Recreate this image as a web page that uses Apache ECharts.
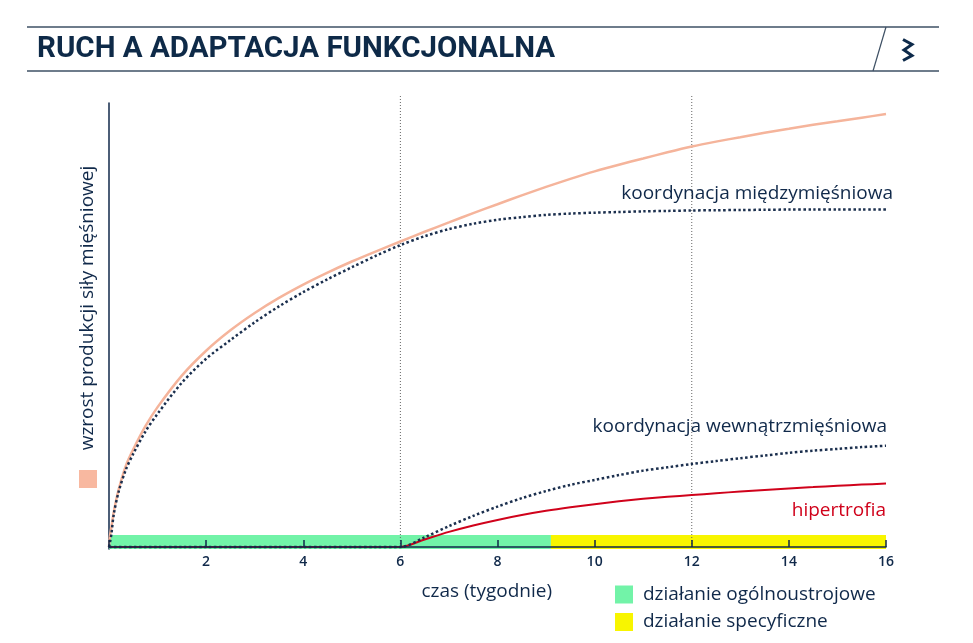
<!DOCTYPE html>
<html>
<head>
    <meta charset="UTF-8">
    <title>Ruch a adaptacja funkcjonalna</title>
    <style>
        html, body {
            height: 100%;
            margin: 0;
            padding: 0;
            background: #fff;
        }
        #chart-container {
            width: 973px;
            height: 643px;
        }
    </style>
</head>
<body>
<div id="chart-container"></div>

<script src="https://cdn.jsdelivr.net/npm/echarts@6.0.0/dist/echarts.min.js"></script>
<script>
    // tygodnie (oś X)
    const weeks = [0, 0.02, 0.05, 0.1, 0.2, 0.35, 0.5, 0.75, 1, 1.5, 2, 2.5, 3, 3.5, 4, 4.5, 5, 5.5, 6, 6.5, 7, 7.5, 8, 8.5, 9, 9.5, 10, 10.5, 11, 11.5, 12, 12.5, 13, 13.5, 14, 14.5, 15, 15.5, 16];

    // wzrost siły - suma (łososiowa linia)
    const total = [0, 2.5, 4.5, 8, 13, 18.4, 22, 27.2, 31.5, 38.6, 44.2, 48.8, 52.7, 56.1, 59.1, 61.8, 64.3, 66.6, 68.8, 71, 73.1, 75.2, 77.2, 79.2, 81.1, 82.9, 84.6, 86.1, 87.5, 88.9, 90.2, 91.3, 92.3, 93.3, 94.2, 95.1, 95.9, 96.7, 97.5];
    // koordynacja międzymięśniowa
    const inter = [0, 1, 3, 7.5, 12.5, 17.5, 21, 26, 30, 37, 42.4, 46.6, 50.6, 54.2, 57.4, 60.3, 63, 65.6, 68, 70, 71.6, 72.8, 73.7, 74.3, 74.8, 75.1, 75.3, 75.45, 75.6, 75.7, 75.8, 75.85, 75.9, 75.95, 76, 76, 76, 76, 76];
    // koordynacja wewnątrzmięśniowa
    const intra = [0, 0, 0, 0, 0, 0, 0, 0, 0, 0, 0, 0, 0, 0, 0, 0, 0, 0, 0, 2.2, 4.7, 7, 9.1, 11, 12.6, 14, 15.1, 16.2, 17.2, 17.95, 18.7, 19.35, 20, 20.6, 21.2, 21.7, 22.1, 22.5, 22.8];
    // hipertrofia
    const hyper = [0, 0, 0, 0, 0, 0, 0, 0, 0, 0, 0, 0, 0, 0, 0, 0, 0, 0, 0, 1.7, 3.4, 4.85, 6.1, 7.2, 8.15, 8.95, 9.65, 10.3, 10.85, 11.3, 11.7, 12.1, 12.5, 12.85, 13.2, 13.5, 13.8, 14.05, 14.3];

    // fazy (pasy przy osi X)
    const phaseNames = ['działanie ogólnoustrojowe', 'działanie specyficzne'];
    const phaseStart = [0, 9.1];
    const phaseEnd = [9.1, 16.15];

    // pionowe linie pomocnicze
    const guideWeeks = [6, 12];
    const guideTop = 101.8;

    const xTicks = [2, 4, 6, 8, 10, 12, 14, 16];

    const NAVY = '#10294a';
    const FONT = 'Open Sans';
    const TEXT_FONT = '500 19px "Open Sans"';
    const phaseColors = ['#72f3a8', '#f8f500'];

    const pts = function (ys) {
        return weeks.map(function (w, i) { return [w, ys[i]]; });
    };

    const chart = echarts.init(document.getElementById('chart-container'));

    const series = [];

    phaseNames.forEach(function (name, i) {
        series.push({
            name: name,
            type: 'line',
            data: [],
            color: phaseColors[i],
            z: 1,
            markArea: {
                silent: true,
                itemStyle: { color: phaseColors[i], opacity: 1 },
                data: [[{ xAxis: phaseStart[i], yAxis: -0.45 }, { xAxis: phaseEnd[i], yAxis: 2.7 }]]
            }
        });
    });

    guideWeeks.forEach(function (g) {
        series.push({
            type: 'line',
            data: [[g, 0], [g, guideTop]],
            symbol: 'none',
            clip: false,
            silent: true,
            z: 2,
            lineStyle: { color: '#666', width: 1, type: [1, 2] }
        });
    });

    series.push({
        name: 'suma',
        type: 'line',
        data: pts(total),
        smooth: 0.3,
        symbol: 'none',
        z: 3,
        lineStyle: { color: '#f5b49b', width: 2.5 }
    }, {
        name: 'koordynacja międzymięśniowa',
        type: 'line',
        data: pts(inter),
        smooth: 0.3,
        symbol: 'none',
        z: 4,
        lineStyle: { color: '#1b2f4e', width: 2.5, type: 'dotted' }
    }, {
        name: 'hipertrofia',
        type: 'line',
        data: pts(hyper),
        smooth: 0.3,
        symbol: 'none',
        z: 4,
        lineStyle: { color: '#d0021b', width: 2 }
    }, {
        name: 'koordynacja wewnątrzmięśniowa',
        type: 'line',
        data: pts(intra),
        smooth: 0.3,
        symbol: 'none',
        z: 5,
        lineStyle: { color: '#1b2f4e', width: 2.5, type: 'dotted' }
    });

    const option = {
        animation: false,
        title: {
            text: 'RUCH A ADAPTACJA FUNKCJONALNA',
            left: 32,
            top: 30,
            textStyle: {
                fontFamily: 'Roboto',
                fontWeight: 'bold',
                fontSize: 29.5,
                color: '#0e2a48'
            }
        },
        legend: {
            orient: 'vertical',
            left: 615,
            top: 585,
            padding: 0,
            itemWidth: 18,
            itemHeight: 18,
            itemGap: 8.5,
            icon: 'rect',
            data: phaseNames,
            selectedMode: false,
            textStyle: { fontFamily: FONT, fontWeight: 500, fontSize: 19, color: NAVY, padding: [0, 0, 0, 5] }
        },
        grid: {
            left: 109,
            right: 87,
            top: 103,
            bottom: 94
        },
        xAxis: {
            type: 'value',
            min: 0,
            max: 16,
            interval: 2,
            z: 10,
            splitLine: { show: false },
            axisLine: { onZero: true, lineStyle: { color: NAVY, width: 1.5 } },
            axisTick: { inside: true, length: 7, lineStyle: { color: NAVY, width: 1.5 } },
            axisLabel: {
                margin: 6,
                color: NAVY,
                fontFamily: FONT,
                fontWeight: 600,
                fontSize: 14,
                showMaxLabel: true,
                formatter: function (v) { return xTicks.indexOf(v) >= 0 ? String(v) : ''; }
            }
        },
        yAxis: {
            type: 'value',
            min: -0.45,
            max: 100,
            splitLine: { show: false },
            axisTick: { show: false },
            axisLabel: { show: false },
            axisLine: { show: true, onZero: false, lineStyle: { color: NAVY, width: 1.5 } }
        },
        graphic: [
            // ramka nagłówka
            { type: 'line', shape: { x1: 27, y1: 27, x2: 939, y2: 27 }, style: { stroke: '#3e5064', lineWidth: 1.5 } },
            { type: 'line', shape: { x1: 27, y1: 71, x2: 939, y2: 71 }, style: { stroke: '#3e5064', lineWidth: 1.5 } },
            { type: 'line', shape: { x1: 886, y1: 27, x2: 873, y2: 71 }, style: { stroke: '#3e5064', lineWidth: 1.2 } },
            {
                type: 'polyline',
                shape: { points: [[903, 39.5], [912, 44.5], [904, 50], [912, 55.5], [903, 60.5]] },
                style: { stroke: '#0d2a4a', lineWidth: 3, fill: null, lineJoin: 'miter' }
            },
            // tytuł osi Y
            {
                type: 'text',
                x: 88,
                y: 308,
                rotation: Math.PI / 2,
                style: {
                    text: 'wzrost produkcji siły mięśniowej',
                    font: TEXT_FONT,
                    fill: NAVY,
                    textAlign: 'center',
                    textVerticalAlign: 'middle'
                }
            },
            { type: 'rect', shape: { x: 79, y: 470, width: 18, height: 18 }, style: { fill: '#f8b8a0' } },
            // tytuł osi X
            {
                type: 'text',
                x: 552,
                y: 592,
                style: {
                    text: 'czas (tygodnie)',
                    font: TEXT_FONT,
                    fill: NAVY,
                    textAlign: 'right',
                    textVerticalAlign: 'middle'
                }
            },
            // etykiety krzywych
            {
                type: 'text',
                x: 893,
                y: 194,
                style: {
                    text: 'koordynacja międzymięśniowa',
                    font: TEXT_FONT,
                    fill: NAVY,
                    textAlign: 'right',
                    textVerticalAlign: 'middle'
                }
            },
            {
                type: 'text',
                x: 887,
                y: 427,
                style: {
                    text: 'koordynacja wewnątrzmięśniowa',
                    font: TEXT_FONT,
                    fill: NAVY,
                    textAlign: 'right',
                    textVerticalAlign: 'middle'
                }
            },
            {
                type: 'text',
                x: 886,
                y: 511,
                style: {
                    text: 'hipertrofia',
                    font: TEXT_FONT,
                    fill: '#d0021b',
                    textAlign: 'right',
                    textVerticalAlign: 'middle'
                }
            }
        ],
        series: series
    };

    chart.setOption(option);
</script>
</body>
</html>
